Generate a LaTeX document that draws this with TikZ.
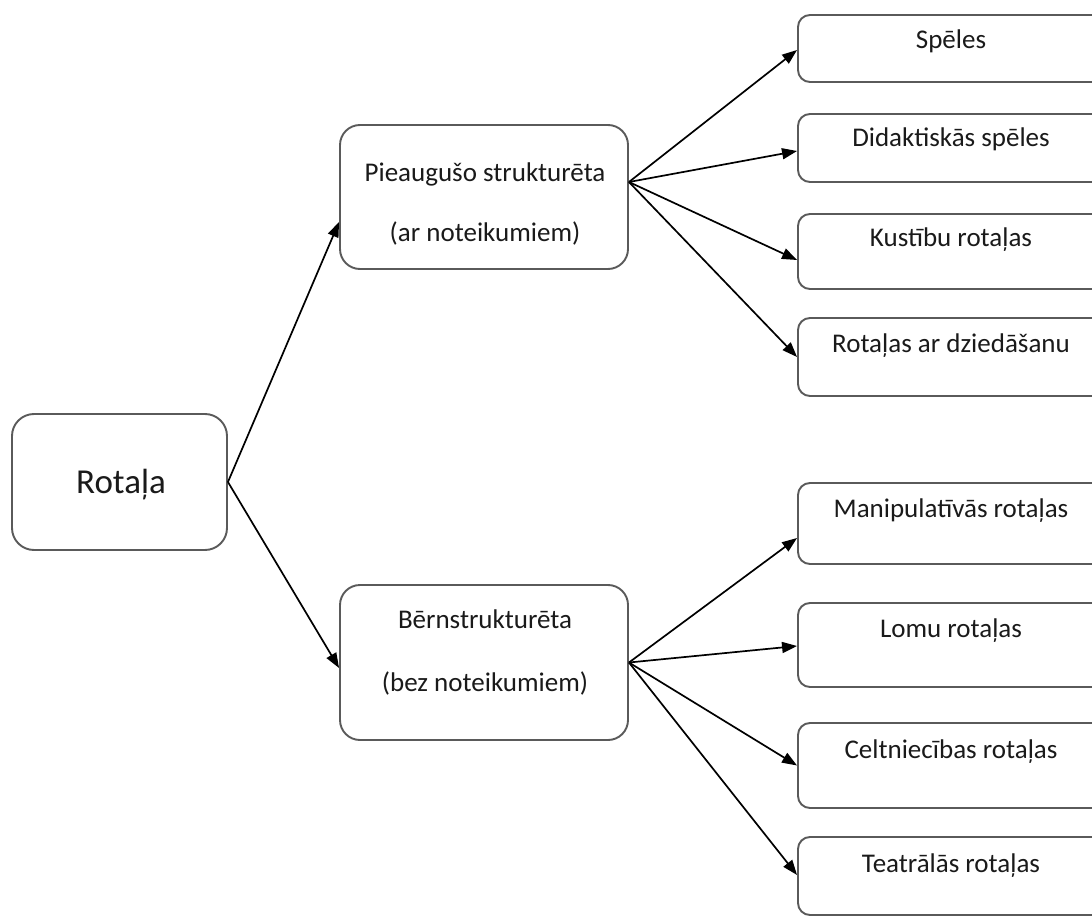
\documentclass[tikz,border=0pt]{standalone}
\usepackage{fontspec}
\setmainfont{Carlito}
\usetikzlibrary{arrows.meta}
\definecolor{bordergray}{HTML}{5A5A5A}
\definecolor{txtcol}{HTML}{1A1A1A}
\begin{document}
\begin{tikzpicture}[x=1pt,y=-1pt,
  box/.style={draw=bordergray, line width=1.9pt, rounded corners=20pt, inner sep=0pt, minimum width=288pt},
  rbox/.style={box, rounded corners=12pt, minimum width=306pt},
  arr/.style={line width=1.7pt, -{Triangle[length=15pt,width=11pt]}},
  txt/.style={anchor=base, inner sep=0pt, text=txtcol, font=\fontsize{27}{32}\selectfont},
  bigtxt/.style={anchor=base, inner sep=0pt, text=txtcol, font=\fontsize{35}{40}\selectfont}]
\useasboundingbox (0,0) rectangle (1092,917);
\clip (0,0) rectangle (1092,917);
\fill[white] (0,0) rectangle (1092,917);
% boxes
\node[box, rounded corners=22pt, minimum width=215pt, minimum height=136pt] (rot) at (119.5,482) {};
\node[box, minimum height=144pt] (pie) at (484,197) {};
\node[box, minimum height=155pt] (ber) at (484,662.5) {};
\node[rbox, minimum height=67pt] (spe) at (951,48.5) {};
\node[rbox, minimum height=68pt] (did) at (951,148) {};
\node[rbox, minimum height=75pt] (kus) at (951,251.5) {};
\node[rbox, minimum height=78pt] (dzi) at (951,357) {};
\node[rbox, minimum height=81pt] (man) at (951,523.5) {};
\node[rbox, minimum height=84pt] (lom) at (951,645) {};
\node[rbox, minimum height=85pt] (cel) at (951,765.5) {};
\node[rbox, minimum height=78pt] (tea) at (951,876) {};
% texts
\node[bigtxt] (trot) at (121,493) {Rotaļa};
\node[txt] (tpie1) at (485,182) {Pieaugušo strukturēta};
\node[txt] (tpie2) at (485,242) {(ar noteikumiem)};
\node[txt] (tber1) at (485,628) {Bērnstrukturēta};
\node[txt] (tber2) at (485,691) {(bez noteikumiem)};
\node[txt] (tspe) at (951,49) {Spēles};
\node[txt] (tdid) at (951,147) {Didaktiskās spēles};
\node[txt] (tkus) at (951,247) {Kustību rotaļas};
\node[txt] (tdzi) at (951,352) {Rotaļas ar dziedāšanu};
\node[txt] (tman) at (951,517) {Manipulatīvās rotaļas};
\node[txt] (tlom) at (951,637) {Lomu rotaļas};
\node[txt] (tcel) at (951,758) {Celtniecības rotaļas};
\node[txt] (ttea) at (951,872) {Teatrālās rotaļas};
% arrows
\draw[arr] (rot.east) -- ([yshift=-25pt]pie.west);
\draw[arr] (rot.east) -- ([yshift=-5.5pt]ber.west);
\coordinate (po) at ([yshift=15pt]pie.east);
\draw[arr] (po) -- ([yshift=-1.5pt]spe.west);
\draw[arr] (po) -- ([yshift=-3pt]did.west);
\draw[arr] (po) -- ([yshift=-8.5pt]kus.west);
\draw[arr] (po) -- (dzi.west);
\draw[arr] (ber.east) -- ([yshift=-14.5pt]man.west);
\draw[arr] (ber.east) -- ([yshift=-1pt]lom.west);
\draw[arr] (ber.east) -- (cel.west);
\draw[arr] (ber.east) -- ([yshift=1pt]tea.west);
\end{tikzpicture}
\end{document}
